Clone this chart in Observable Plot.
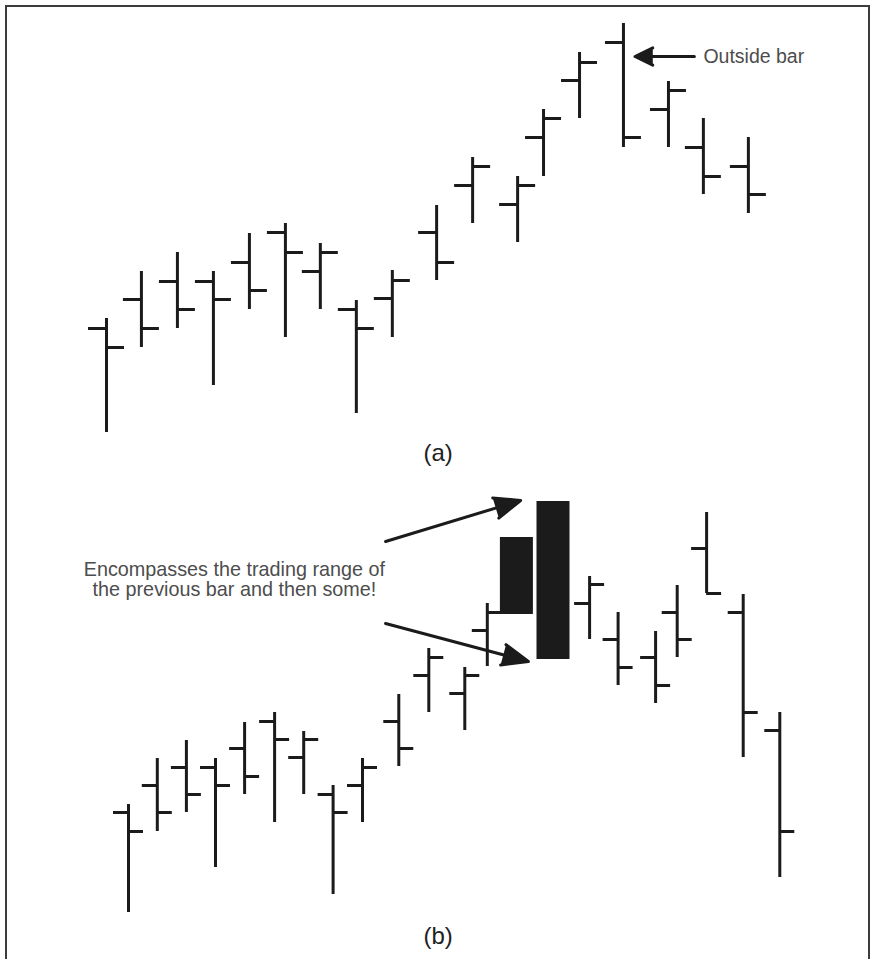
<!DOCTYPE html>
<html>
<head>
<meta charset="utf-8">
<script src="https://cdn.jsdelivr.net/npm/d3@7"></script>
<script src="https://cdn.jsdelivr.net/npm/@observablehq/plot@0.6"></script>
<style>
  html, body { margin: 0; padding: 0; background: #fff; }
  #wrap { position: relative; width: 872px; height: 959px; overflow: hidden; background: #fff; }
  #frame { position: absolute; left: 5px; top: 5px; width: 861px; height: 1000px; border: 2px solid #3c3c3c; box-sizing: content-box; pointer-events: none; }
  .panel { position: absolute; left: 0; }
</style>
</head>
<body>
<div id="wrap">
  <div id="panelA" class="panel" style="top:0px"></div>
  <div id="panelB" class="panel" style="top:470px"></div>
  <div id="frame"></div>
</div>
<script>
// ---------- Panel (a): OHLC bars with an outside bar ----------
const tA     = [1.00, 1.97, 2.97, 3.97, 4.97, 5.97, 6.94, 7.94, 8.94, 10.17, 11.17, 12.42, 13.14, 14.14, 15.36, 16.61, 17.58, 18.83];
const openA  = [24.4, 30.2, 33.8, 33.8, 37.6, 43.6, 35.8, 28.2, 30.4, 43.6, 53.0, 49.2, 62.6, 74.0, 81.6, 68.2, 60.6, 56.8];
const highA  = [26.4, 35.8, 39.6, 35.8, 43.4, 45.4, 41.4, 30.0, 36.0, 49.0, 58.6, 54.8, 68.2, 79.6, 85.4, 73.8, 66.4, 62.6];
const lowA   = [ 3.6, 20.6, 24.4, 13.0, 28.2, 22.6, 28.2,  7.4, 22.6, 34.0, 45.4, 41.6, 54.8, 66.4, 60.6, 60.6, 51.2, 47.4];
const closeA = [20.6, 24.4, 28.2, 30.2, 32.0, 39.6, 39.6, 24.4, 34.0, 37.6, 56.8, 53.0, 66.4, 77.6, 62.6, 72.0, 54.8, 51.2];

const labelA = ["(a)"];
const labelAT = [10.21];
const labelAY = [-0.5];

const calloutA = ["Outside bar"];
const calloutAT = [17.58];
const calloutAY = [78.8];
const arrowAFrom = [17.33];
const arrowATo = [15.68];
const arrowAY = [78.8];

// ---------- Panel (b): OHLC bars with two candle bodies ----------
const tB     = [1.00, 1.96, 2.93, 3.90, 4.87, 5.87, 6.84, 7.82, 8.80, 10.01, 11.01, 12.21, 12.96, 16.37, 17.32, 18.57, 19.29, 20.27, 21.49, 22.71];
const openB  = [25.6, 31.0, 34.6, 34.6, 38.4, 43.8, 36.6, 29.2, 31.0, 43.8, 53.0, 49.4, 62.0, 67.4, 60.2, 56.6, 65.6, 78.4, 65.6, 42.0];
const highB  = [27.2, 36.4, 40.0, 36.4, 43.6, 45.6, 41.8, 31.0, 36.4, 49.2, 58.4, 54.6, 67.4, 72.8, 65.6, 61.8, 71.0, 85.6, 69.2, 45.6];
const lowB   = [ 5.6, 21.8, 25.6, 14.6, 29.2, 23.6, 29.2,  9.2, 23.6, 34.8, 45.6, 42.0, 54.8, 60.2, 51.0, 47.4, 56.6, 69.4, 36.6, 12.6];
const closeB = [21.8, 25.6, 29.2, 31.0, 32.8, 40.2, 40.2, 25.6, 34.6, 38.4, 56.6, 53.0, 65.6, 71.2, 54.6, 51.0, 60.2, 69.4, 45.6, 21.8];

const candleT     = [13.93, 15.15];
const candleOpen  = [65.2, 87.8];
const candleClose = [80.6, 56.2];

const labelB = ["(b)"];
const labelBT = [11.32];
const labelBY = [0.9];

const noteB = ["Encompasses the trading range of\nthe previous bar and then some!"];
const noteBT = [4.53];
const noteBY = [72.2];
const arrowBX1 = [9.57, 9.57];
const arrowBY1 = [79.8, 63.4];
const arrowBX2 = [14.07, 14.33];
const arrowBY2 = [88.0, 55.8];

// ---------- build tables ----------
const barsA = tA.map((t, i) => ({t, open: openA[i], high: highA[i], low: lowA[i], close: closeA[i]}));
const barsB = tB.map((t, i) => ({t, open: openB[i], high: highB[i], low: lowB[i], close: closeB[i]}));
const candles = candleT.map((t, i) => ({t, open: candleOpen[i], close: candleClose[i]}));

const INK = "#1b1b1b";
const TEXT = "#4d4d4d";
const FONT = "Liberation Sans, Arial, Helvetica, sans-serif";

function ohlcMarks(bars, tick) {
  return [
    Plot.ruleX(bars, {x: "t", y1: "low", y2: "high", stroke: INK, strokeWidth: 3}),
    Plot.ruleY(bars, {x1: "t", x2: "t", y: "open", insetLeft: -tick, insetRight: 0, stroke: INK, strokeWidth: 3}),
    Plot.ruleY(bars, {x1: "t", x2: "t", y: "close", insetLeft: 0, insetRight: -tick, stroke: INK, strokeWidth: 3})
  ];
}

const plotA = Plot.plot({
  width: 872,
  height: 470,
  marginTop: 0, marginBottom: 20, marginLeft: 0, marginRight: 0,
  style: {background: "transparent", overflow: "visible"},
  x: {domain: [-1.9444, 22.2778], axis: null},
  y: {domain: [0, 90], axis: null},
  marks: [
    ...ohlcMarks(barsA, 18),
    Plot.arrow(arrowAFrom.map((x1, i) => ({x1, x2: arrowATo[i], y: arrowAY[i]})), {
      x1: "x1", y1: "y", x2: "x2", y2: "y",
      stroke: INK, fill: INK, strokeWidth: 3, headLength: 14, headAngle: 52
    }),
    Plot.text(calloutA.map((s, i) => ({s, t: calloutAT[i], y: calloutAY[i]})), {
      x: "t", y: "y", text: "s", textAnchor: "start", lineAnchor: "middle",
      fontSize: 19.5, fontFamily: FONT, fill: TEXT
    }),
    Plot.text(labelA.map((s, i) => ({s, t: labelAT[i], y: labelAY[i]})), {
      x: "t", y: "y", text: "s", textAnchor: "middle", lineAnchor: "middle",
      fontSize: 24, fontFamily: FONT, fill: "#222"
    })
  ]
});
document.getElementById("panelA").appendChild(plotA);

const plotB = Plot.plot({
  width: 872,
  height: 489,
  marginTop: 0, marginBottom: 19, marginLeft: 0, marginRight: 0,
  style: {background: "transparent", overflow: "visible"},
  x: {domain: [-3.2667, 25.8], axis: null},
  y: {domain: [0, 94], axis: null},
  marks: [
    ...ohlcMarks(barsB, 15),
    Plot.ruleX(candles, {x: "t", y1: "open", y2: "close", stroke: INK, strokeWidth: 33}),
    Plot.arrow(arrowBX1.map((x1, i) => ({x1, y1: arrowBY1[i], x2: arrowBX2[i], y2: arrowBY2[i]})), {
      x1: "x1", y1: "y1", x2: "x2", y2: "y2",
      stroke: INK, fill: INK, strokeWidth: 3, headLength: 14, headAngle: 44
    }),
    Plot.text(noteB.map((s, i) => ({s, t: noteBT[i], y: noteBY[i]})), {
      x: "t", y: "y", text: "s", textAnchor: "middle", lineAnchor: "middle", lineHeight: 1.04,
      fontSize: 19.8, fontFamily: FONT, fill: TEXT
    }),
    Plot.text(labelB.map((s, i) => ({s, t: labelBT[i], y: labelBY[i]})), {
      x: "t", y: "y", text: "s", textAnchor: "middle", lineAnchor: "middle",
      fontSize: 24, fontFamily: FONT, fill: "#222"
    })
  ]
});
document.getElementById("panelB").appendChild(plotB);
</script>
</body>
</html>
